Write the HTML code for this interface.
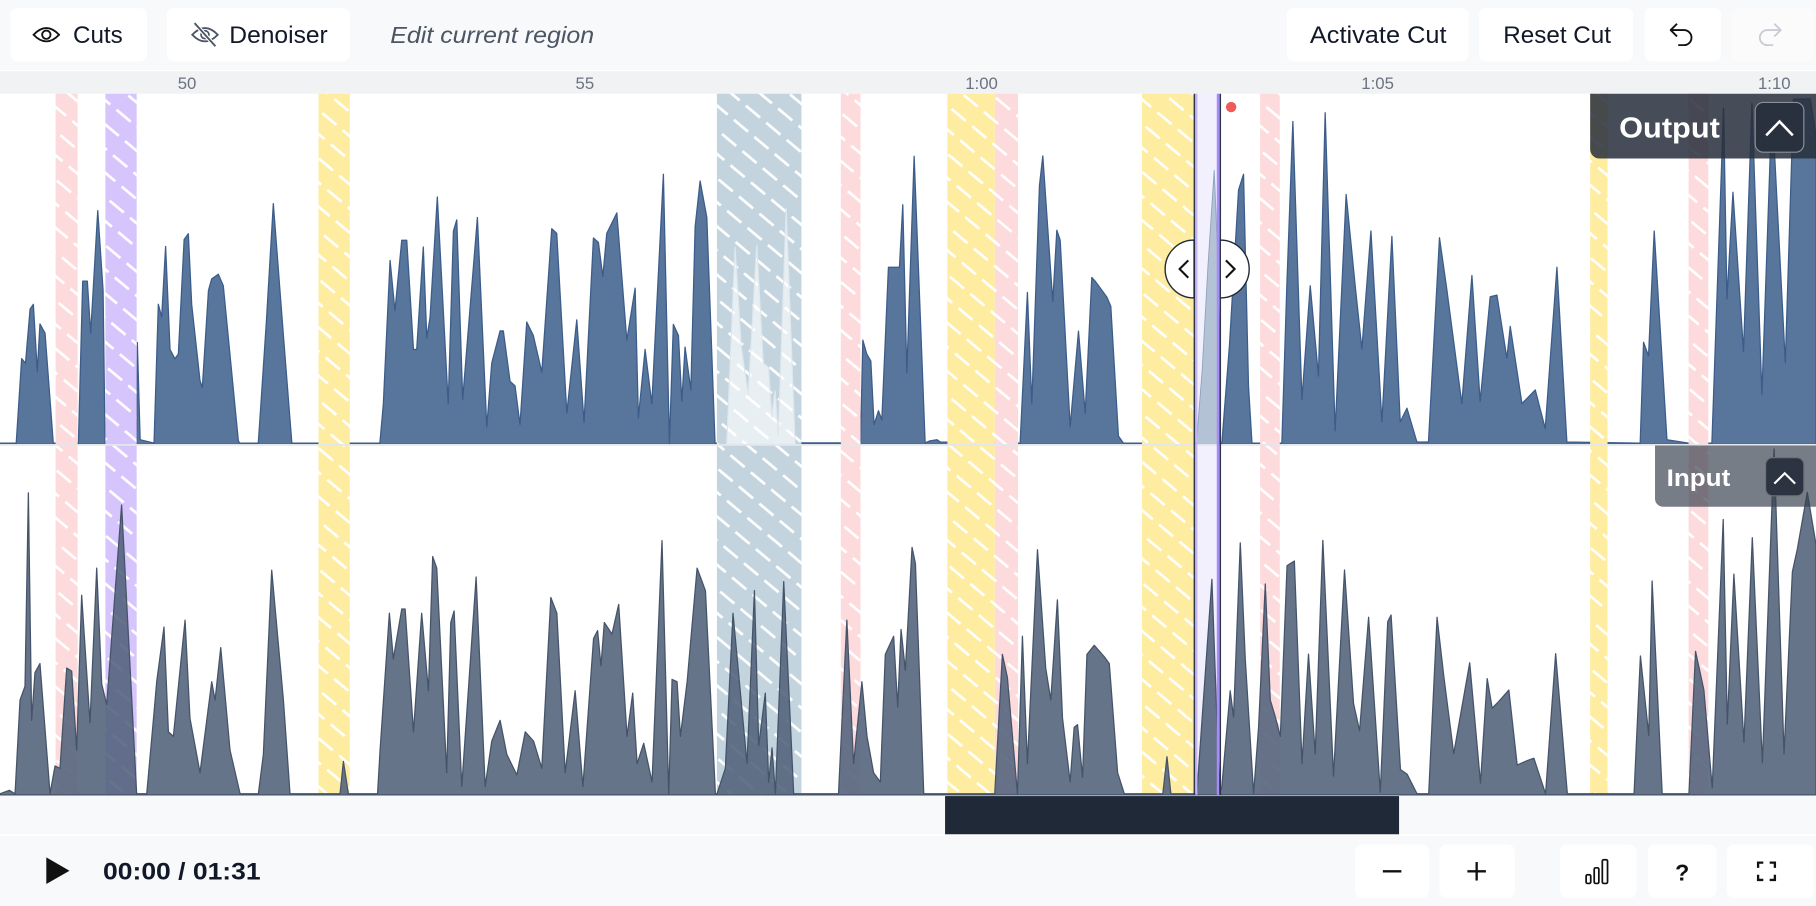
<!DOCTYPE html>
<html><head><meta charset="utf-8"><style>
html,body{margin:0;padding:0;background:#f8f9fa;overflow:hidden;width:1816px;height:906px}
svg{display:block}
text{font-family:"Liberation Sans",sans-serif}
</style></head><body>
<svg width="1816" height="906" viewBox="0 0 1568 783" preserveAspectRatio="none" xmlns="http://www.w3.org/2000/svg">
<defs>
<pattern id="pP" width="23" height="16" patternUnits="userSpaceOnUse" patternTransform="rotate(40)"><rect width="23" height="16" fill="#fddadb"/><line x1="0" y1="8" x2="16" y2="8" stroke="#fff" stroke-width="2.3"/></pattern>
<pattern id="pV" width="23" height="16" patternUnits="userSpaceOnUse" patternTransform="rotate(40)"><rect width="23" height="16" fill="#d6c4fc"/><line x1="0" y1="8" x2="16" y2="8" stroke="#fff" stroke-width="2.3"/></pattern>
<pattern id="pY" width="23" height="16" patternUnits="userSpaceOnUse" patternTransform="rotate(40)"><rect width="23" height="16" fill="#feeca0"/><line x1="0" y1="8" x2="16" y2="8" stroke="#fff" stroke-width="2.3"/></pattern>
<pattern id="pB" width="23" height="16" patternUnits="userSpaceOnUse" patternTransform="rotate(40)"><rect width="23" height="16" fill="#c3d4de"/><line x1="0" y1="8" x2="16" y2="8" stroke="#fff" stroke-width="2.3"/></pattern>
</defs>

<!-- backgrounds -->
<rect x="0" y="0" width="1568" height="61" fill="#f8f9fa"/>
<rect x="0" y="61" width="1568" height="20" fill="#f1f2f4"/>
<line x1="0" y1="61" x2="1568" y2="61" stroke="#ffffff" stroke-width="1"/>
<rect x="0" y="81" width="1568" height="606" fill="#ffffff"/>
<rect x="0" y="687" width="1568" height="96" fill="#f8f9fa"/>
<line x1="0" y1="721.5" x2="1568" y2="721.5" stroke="#ffffff" stroke-width="1.5"/>

<!-- selection region bg -->
<rect x="1031.5" y="81" width="22" height="606" fill="#f3f0fe"/>

<!-- output waveform -->
<path fill="#58769b" stroke="#3c5c8a" stroke-width="1.1" stroke-linejoin="round" stroke-linecap="round" d="M0,383 L14,383 L18.7,310 L22,314 L26,267 L28.8,263 L32.2,321 L34.5,280 L38.9,288 L46,383 L67.7,383 L71.4,243 L75.4,243 L78.3,288 L84.4,182 L89,251 L90.7,383 L118,383 L118.6,296 L121,380 L133,383 L136.7,263 L139.6,274 L143,213 L146.8,302 L151,310 L154,306 L159,207 L162.6,202 L165.5,263 L172.7,329 L174.7,335 L180,251 L182.8,241 L188.5,237 L192.8,247 L205.8,381 L207,383 L223,383 L224.5,361 L230,278 L236,176 L244.7,290 L252,383 L328,383 L331,349 L336.8,225 L341,268.6 L346.9,207.6 L351.2,207.6 L357,302 L359.8,302 L365.5,213.5 L368.5,292 L371.3,274.5 L377.6,170.3 L387,349 L391.5,199.7 L394.4,190 L399.5,345 L412.2,188 L420.3,369 L424.6,313.7 L431.8,286 L434.6,286 L440.4,329.6 L444.7,333.5 L449,367 L454.8,278.3 L460.5,290 L467.8,321.7 L476.4,197.7 L480.7,201.7 L489.4,357 L498,276.5 L504.3,365 L512.4,205.7 L516.7,209.6 L520.5,239 L523.9,201.7 L532.6,184 L541.2,294 L548.4,249 L551.2,361 L557,302 L562.8,349 L572.8,150.6 L578,383 L581.4,280.4 L585.8,290 L588.7,347 L591.5,300 L596.5,337 L600.2,196 L604.5,156.4 L610.3,188 L617.4,383 L743,383 L745,294 L748.4,306 L751.9,312 L754.7,367 L758.5,355 L761.4,363 L767.1,231 L776.6,231 L779.5,177 L783,322 L789.3,135 L798.8,382.7 L803,381 L808.9,380 L812,382 L880.8,383 L887.1,252.8 L890.9,349 L897.5,160.4 L900.4,134.8 L909,260.8 L912.5,199 L915.4,207.6 L924,369 L931.2,286.2 L937,357 L942.7,239.8 L945.6,243 L955.7,256.8 L959.1,264.7 L965.7,376.8 L970,383 L1055,383 L1061.6,298 L1069.4,164.3 L1073.7,150.6 L1078,333.5 L1081,383 L1106.8,383 L1111.1,247 L1116.3,105 L1124.1,345.3 L1131.3,247 L1138.4,325 L1144.2,97.4 L1152.8,372.4 L1162.3,168.1 L1170.1,246.8 L1175.9,301.6 L1183.7,199.6 L1193.2,364.6 L1201.8,204.3 L1209,364.6 L1214.8,352.8 L1223.4,382 L1233.4,382 L1242.9,205.5 L1249.3,250.6 L1262.2,348.8 L1270.9,238.1 L1278,346.9 L1286.7,256.5 L1292.5,255 L1301.1,309.6 L1304,282.1 L1314.1,348.8 L1325.6,337 L1334.2,370.4 L1344.3,231 L1352.9,382 L1416.2,383 L1419.1,295.8 L1423.4,307.6 L1428.3,199.6 L1439.3,380 L1458,383 L1478.1,383 L1488.2,93.5 L1491.1,258.4 L1496.3,166.2 L1505.4,303.7 L1512.7,89.6 L1521.3,341 L1530,89.6 L1541.5,313.5 L1548.6,85.6 L1563,85.6 L1568,117 L1568,384 L0,384 Z"/>

<!-- output stripes -->
<g>
<rect x="48" y="81" width="19" height="303" fill="url(#pP)"/>
<rect x="91" y="81" width="27" height="303" fill="url(#pV)"/>
<rect x="275" y="81" width="27" height="303" fill="url(#pY)"/>
<rect x="619" y="81" width="73" height="303" fill="url(#pB)"/>
<rect x="726" y="81" width="17" height="303" fill="url(#pP)"/>
<rect x="818" y="81" width="41" height="303" fill="url(#pY)"/>
<rect x="859" y="81" width="20" height="303" fill="url(#pP)"/>
<rect x="986" y="81" width="45" height="303" fill="url(#pY)"/>
<rect x="1088" y="81" width="17" height="303" fill="url(#pP)"/>
<rect x="1373" y="81" width="15" height="303" fill="url(#pY)"/>
<rect x="1458" y="81" width="17" height="303" fill="url(#pP)"/>
</g>
<line x1="692" y1="383" x2="726" y2="383" stroke="#3c5c8a" stroke-width="1.5"/>

<!-- ghost waveforms -->
<path fill="#ffffff" fill-opacity="0.62" stroke="#dfe7ee" stroke-width="1" d="M627.5,384 L634.7,213.5 L640,300 L646,341.5 L653.4,211.6 L659,313.8 L663.5,317.7 L666.4,361 L669.2,337.4 L672,376.8 L678.8,180 L686.5,384 Z"/>
<path fill="#b4c2d5" stroke="#8fa3bf" stroke-width="0.8" d="M1033,384 L1038,320 L1043,230 L1048.4,147 L1051,210 L1053,300 L1053,384 Z"/>

<!-- input stripes -->
<g>
<rect x="48" y="384" width="19" height="303" fill="url(#pP)"/>
<rect x="91" y="384" width="27" height="303" fill="url(#pV)"/>
<rect x="275" y="384" width="27" height="303" fill="url(#pY)"/>
<rect x="619" y="384" width="73" height="303" fill="url(#pB)"/>
<rect x="726" y="384" width="17" height="303" fill="url(#pP)"/>
<rect x="818" y="384" width="41" height="303" fill="url(#pY)"/>
<rect x="859" y="384" width="20" height="303" fill="url(#pP)"/>
<rect x="986" y="384" width="45" height="303" fill="url(#pY)"/>
<rect x="1088" y="384" width="17" height="303" fill="url(#pP)"/>
<rect x="1373" y="384" width="15" height="303" fill="url(#pY)"/>
<rect x="1458" y="384" width="17" height="303" fill="url(#pP)"/>
</g>

<!-- input waveform -->
<path fill="#51617a" fill-opacity="0.88" stroke="#46546a" stroke-width="1.1" stroke-linejoin="round" stroke-linecap="round" d="M0,686 L8,683 L13,686 L17.3,605 L21.6,593 L24.5,426 L27.3,622.6 L30.2,581.3 L34.5,573.5 L43.2,686 L47.5,662 L51.8,664 L57.6,577.4 L61.9,580 L66.2,648.3 L70.5,514.4 L77.7,624.6 L83.5,491 L87.8,591 L92.1,609 L105,436.5 L118,686 L126.7,686 L132.4,622.6 L135.3,589.2 L141.6,542 L145.4,632.5 L149.7,636.4 L159.8,536 L164,620.6 L172.7,667.8 L182.8,589.2 L185.7,605 L190.6,559.7 L198.6,648.3 L207.3,686 L223.1,686 L227.4,652 L234.6,492.8 L244.7,605 L250.4,686 L293.6,686 L296.5,658 L300.8,686 L326,686 L328.2,648 L336.2,530 L339.6,569.5 L346.9,526.3 L349.8,526.3 L357,632.5 L364.1,530 L369.9,597 L373.6,481 L377.1,491 L385.7,667.8 L389.2,538 L392.1,528 L398.7,679.7 L411.1,498.7 L418.9,679.7 L424.6,640.5 L431.8,622.6 L437.6,652 L446.3,669.8 L453.5,632.5 L460.7,640.5 L467.8,664 L475.6,516.4 L480.8,530 L488,667.8 L496.6,597 L503.3,679.7 L512.5,551.9 L516,545 L518.9,575.5 L521.8,538 L528.4,548 L534.2,522.3 L541.4,636.4 L546.3,599 L550.1,660 L555.8,642.4 L563,675.8 L571.6,467.2 L577.4,686 L580.3,587.2 L584.6,589.2 L587.5,636.4 L593.3,589.2 L601.9,491 L609.1,510.5 L617.7,686 L619.1,686 L626.3,664 L632.9,530 L645,659.9 L651.4,510.5 L655.1,644.4 L660.8,599 L663.7,675.8 L666.6,646.4 L669.5,686 L676.7,502.7 L685.3,686 L724,686 L731.2,536 L737,659.9 L744.2,589.2 L748.6,636.4 L754.3,667.8 L760.1,675.8 L764.4,565.6 L771.6,549.9 L775.1,611 L778,544 L781.7,579.3 L787.5,473.1 L790.4,487 L797.6,686 L858.9,686 L865.5,565.6 L869.8,585.3 L878.5,686 L882.8,549.9 L887.1,659.9 L895.8,475.1 L902.9,577.4 L907.3,605 L913,518.4 L917.4,620.6 L924,675.8 L927.5,628.5 L930.4,626.3 L934.7,671.8 L938.5,565.6 L944.8,557.7 L953.5,567.6 L957.8,573.5 L965,667.8 L970.8,686 L1004,686 L1007.6,654 L1011,686 L1033.4,686 L1046.4,500.7 L1053,686 L1055,679.7 L1062.2,597 L1065.1,619.7 L1070.9,469.2 L1075.2,569.5 L1082.4,686 L1086.7,628.5 L1092.5,504.7 L1096.8,605 L1101.2,619.7 L1105.5,636.4 L1111.3,488.9 L1117.6,484.9 L1124.2,659.9 L1129.8,565.3 L1135.6,651.6 L1142.2,467 L1151.4,670.7 L1160.9,492.6 L1168.7,608 L1173.9,631.7 L1181.7,533.5 L1191.8,684.8 L1198.2,537.4 L1201.1,531.5 L1209.2,665 L1214.9,669 L1223.5,686 L1233.6,686 L1240.8,533.5 L1246.6,584.3 L1255.2,651.4 L1269,572.8 L1278.3,676.8 L1284.1,586.5 L1288.4,612.1 L1294.1,606.2 L1302.8,596.4 L1310,661.2 L1318.7,657.3 L1324.4,655.3 L1334.5,686 L1343.2,564.9 L1353.3,686 L1410.9,686 L1416.4,566.9 L1423.6,635.6 L1426.5,502.1 L1435.2,686 L1458.3,686 L1464,563 L1471.2,596.4 L1478.4,681 L1487.9,449 L1491.4,625.8 L1497.1,496.2 L1505.8,641.6 L1513,464.7 L1521.7,659.2 L1531.8,388 L1540.4,651.4 L1547.6,494.2 L1551.9,474.5 L1560.5,425.5 L1568,470.6 L1568,687 L0,687 Z"/>

<!-- separator -->
<line x1="0" y1="384.5" x2="1568" y2="384.5" stroke="#e3e6eb" stroke-width="1.5"/>

<!-- selection lines -->
<line x1="1031.3" y1="81" x2="1031.3" y2="687" stroke="#2d3748" stroke-width="1.4"/>
<line x1="1033" y1="81" x2="1033" y2="687" stroke="#c4b3fa" stroke-width="1.8"/>
<line x1="1051.6" y1="81" x2="1051.6" y2="687" stroke="#a78bfa" stroke-width="2"/>
<line x1="1053.6" y1="81" x2="1053.6" y2="687" stroke="#2d3748" stroke-width="1.4"/>

<!-- scroll thumb -->
<rect x="816" y="688" width="392" height="33" fill="#1f2937"/>

<!-- Output label -->
<path d="M1373,81 H1568 V137 H1381 A8,8 0 0 1 1373,129 Z" fill="#282f3c" fill-opacity="0.86"/>
<text x="1398" y="119" font-size="25" font-weight="bold" fill="#ffffff" textLength="87" lengthAdjust="spacingAndGlyphs">Output</text>
<rect x="1515.5" y="88.5" width="42" height="43" rx="7" fill="#2a313e" stroke="#8b919b" stroke-width="1"/>
<polyline points="1525,117 1536.5,105 1548,117" fill="none" stroke="#ffffff" stroke-width="2.2"/>

<!-- Input label -->
<path d="M1429,385 H1568 V438 H1436 A7,7 0 0 1 1429,431 Z" fill="#37404d" fill-opacity="0.68"/>
<text x="1439" y="420" font-size="21" font-weight="bold" fill="#ffffff" textLength="55" lengthAdjust="spacingAndGlyphs">Input</text>
<rect x="1524.5" y="395.5" width="33" height="33" rx="6" fill="#2d3441" stroke="#6b717b" stroke-width="1"/>
<polyline points="1532,418 1541,409 1550,418" fill="none" stroke="#ffffff" stroke-width="1.8"/>

<!-- handle -->
<path d="M1031,207.5 A25,25 0 0 0 1031,257.5 Z" fill="#ffffff" stroke="#1f2937" stroke-width="1.2"/>
<path d="M1053.6,207.5 A25,25 0 0 1 1053.6,257.5 Z" fill="#ffffff" stroke="#1f2937" stroke-width="1.2"/>
<polyline points="1026,225 1018.5,232.5 1026,240" fill="none" stroke="#111" stroke-width="1.8"/>
<polyline points="1058.5,225 1066,232.5 1058.5,240" fill="none" stroke="#111" stroke-width="1.8"/>
<circle cx="1063" cy="92.5" r="4.5" fill="#ef5b5b"/>

<!-- ruler labels -->
<g font-size="14.5" fill="#6b7280" text-anchor="middle">
<text x="161.5" y="77">50</text>
<text x="505" y="77">55</text>
<text x="847.5" y="77">1:00</text>
<text x="1189.5" y="77">1:05</text>
<text x="1532" y="77">1:10</text>
</g>

<!-- toolbar buttons -->
<rect x="9" y="7" width="118" height="46" rx="6" fill="#ffffff"/>
<path d="M29,30 Q40,18.5 51,30 Q40,41.5 29,30 Z" fill="none" stroke="#111" stroke-width="1.6"/>
<circle cx="40" cy="30" r="3.6" fill="none" stroke="#111" stroke-width="1.6"/>
<text x="63" y="37" font-size="20.5" fill="#111827" textLength="43" lengthAdjust="spacingAndGlyphs">Cuts</text>

<rect x="144" y="7" width="158" height="46" rx="6" fill="#ffffff"/>
<path d="M166,30 Q177,18.5 188,30 Q177,41.5 166,30 Z" fill="none" stroke="#4b5563" stroke-width="1.6"/>
<circle cx="177" cy="30" r="3.4" fill="none" stroke="#4b5563" stroke-width="1.5"/>
<line x1="168" y1="20" x2="186" y2="40" stroke="#ffffff" stroke-width="3.5"/>
<line x1="168" y1="20" x2="186" y2="40" stroke="#4b5563" stroke-width="1.6"/>
<text x="198" y="37" font-size="20.5" fill="#111827" textLength="85" lengthAdjust="spacingAndGlyphs">Denoiser</text>

<text x="337" y="37" font-size="20" font-style="italic" fill="#4b5563" textLength="176" lengthAdjust="spacingAndGlyphs">Edit current region</text>

<rect x="1111" y="7" width="157" height="46" rx="6" fill="#ffffff"/>
<text x="1131" y="37" font-size="20.5" fill="#111827" textLength="118" lengthAdjust="spacingAndGlyphs">Activate Cut</text>
<rect x="1277" y="7" width="133" height="46" rx="6" fill="#ffffff"/>
<text x="1298" y="37" font-size="20.5" fill="#111827" textLength="93" lengthAdjust="spacingAndGlyphs">Reset Cut</text>
<rect x="1420" y="7" width="66" height="46" rx="6" fill="#ffffff"/>
<path d="M1448,20.5 L1442.5,26 L1448,31.5 M1442.5,26 H1454 A6.5,6.5 0 0 1 1454,39 H1449" fill="none" stroke="#111" stroke-width="1.6" stroke-linejoin="round"/>
<rect x="1495" y="7" width="71" height="46" rx="6" fill="#fbfbfc"/>
<path d="M1532,20.5 L1537.5,26 L1532,31.5 M1537.5,26 H1526 A6.5,6.5 0 0 0 1526,39 H1531" fill="none" stroke="#c9cdd3" stroke-width="1.6" stroke-linejoin="round"/>

<!-- bottom controls -->
<polygon points="40,741 60,752.5 40,764" fill="#111111"/>
<text x="89" y="760" font-size="21" font-weight="bold" fill="#111827" textLength="136" lengthAdjust="spacingAndGlyphs">00:00 / 01:31</text>

<rect x="1170" y="730" width="64" height="46" rx="6" fill="#ffffff"/>
<line x1="1194" y1="753" x2="1210" y2="753" stroke="#111" stroke-width="2"/>
<rect x="1243" y="730" width="65" height="46" rx="6" fill="#ffffff"/>
<line x1="1267" y1="753" x2="1283" y2="753" stroke="#111" stroke-width="2"/>
<line x1="1275" y1="745" x2="1275" y2="761" stroke="#111" stroke-width="2"/>
<rect x="1347" y="730" width="66" height="46" rx="6" fill="#ffffff"/>
<rect x="1369.5" y="756" width="4" height="7.5" rx="1.2" fill="none" stroke="#111" stroke-width="1.5"/>
<rect x="1376.5" y="750" width="4" height="13.5" rx="1.2" fill="none" stroke="#111" stroke-width="1.5"/>
<rect x="1383.5" y="743" width="4.5" height="20.5" rx="1.2" fill="none" stroke="#111" stroke-width="1.5"/>
<rect x="1423" y="730" width="59" height="46" rx="6" fill="#ffffff"/>
<text x="1452.5" y="761" font-size="20" font-weight="bold" fill="#111" text-anchor="middle">?</text>
<rect x="1491" y="730" width="75" height="46" rx="6" fill="#ffffff"/>
<path d="M1518,750 V745.5 H1522.5 M1528,745.5 H1532.5 V750 M1532.5,756 V760.5 H1528 M1522.5,760.5 H1518 V756" fill="none" stroke="#111" stroke-width="2"/>
</svg>
</body></html>
